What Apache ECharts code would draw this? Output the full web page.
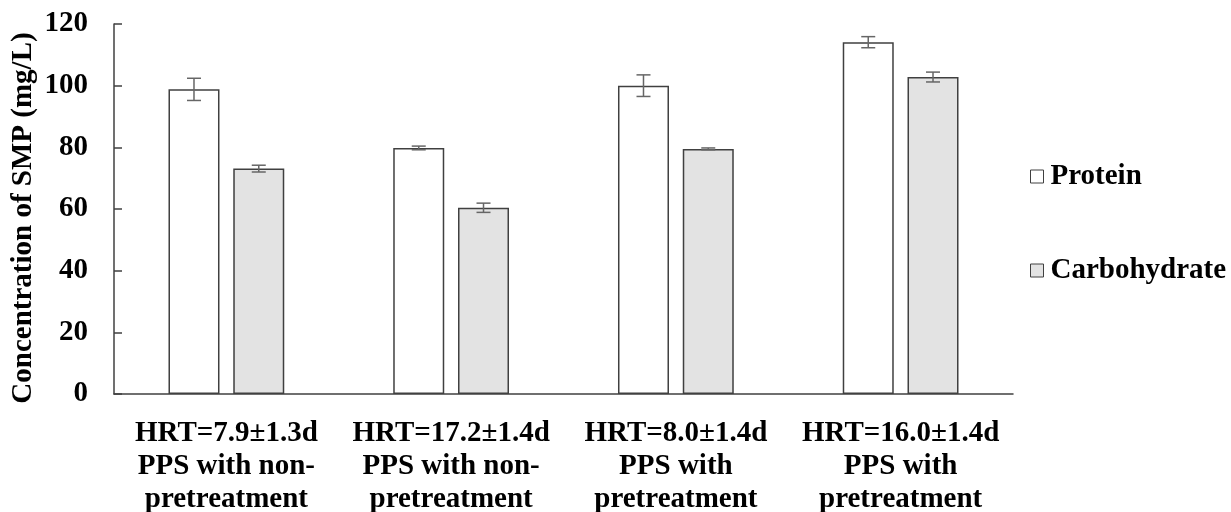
<!DOCTYPE html>
<html>
<head>
<meta charset="utf-8">
<script src="https://cdn.jsdelivr.net/npm/echarts@6/dist/echarts.min.js"></script>
<style>html,body{margin:0;padding:0;background:#fff}#c{width:1231px;height:512px}</style>
</head>
<body>
<div id="c"></div>
<script>
var categories = ['HRT=7.9±1.3d\nPPS with non-\npretreatment', 'HRT=17.2±1.4d\nPPS with non-\npretreatment', 'HRT=8.0±1.4d\nPPS with\npretreatment', 'HRT=16.0±1.4d\nPPS with\npretreatment'];
var seriesNames = ['Protein', 'Carbohydrate'];
var protein = [98.8, 79.8, 100.0, 114.1];
var proteinErr = [3.6, 0.6, 3.5, 1.8];
var carbohydrate = [73.1, 60.4, 79.5, 102.8];
var carbohydrateErr = [1.1, 1.5, 0.3, 1.6];
var yTicks = [0, 20, 40, 60, 80, 100, 120];

var FONT = 'Liberation Serif';
var BAR_W = 51, GAP_PCT = 0.27;
var OFFSET = (BAR_W + BAR_W * GAP_PCT) / 2;

function errData(vals, errs) {
  return vals.map(function (v, i) { return [i, v - errs[i], v + errs[i]]; });
}
function errSeries(vals, errs, sign) {
  return {
    type: 'custom',
    silent: true,
    z: 5,
    data: errData(vals, errs),
    renderItem: function (params, api) {
      var lo = api.coord([api.value(0), api.value(1)]);
      var hi = api.coord([api.value(0), api.value(2)]);
      var x = lo[0] + sign * OFFSET;
      var cap = 7;
      var st = { stroke: '#666', lineWidth: 1.5 };
      return {
        type: 'group',
        children: [
          { type: 'line', shape: { x1: x, y1: lo[1], x2: x, y2: hi[1] }, style: st },
          { type: 'line', shape: { x1: x - cap, y1: lo[1], x2: x + cap, y2: lo[1] }, style: st },
          { type: 'line', shape: { x1: x - cap, y1: hi[1], x2: x + cap, y2: hi[1] }, style: st }
        ]
      };
    }
  };
}

var chart = echarts.init(document.getElementById('c'));
chart.setOption({
  animation: false,
  backgroundColor: '#fff',
  grid: { left: 114, right: 218, top: 24, bottom: 118, containLabel: false, outerBoundsMode: 'none' },
  legend: {
    data: seriesNames,
    orient: 'vertical',
    left: 1025,
    top: 157,
    itemGap: 65,
    itemWidth: 13,
    itemHeight: 13,
    icon: 'rect',
    itemStyle: { borderColor: '#404040', borderWidth: 1 },
    textStyle: { fontFamily: FONT, fontWeight: 'bold', fontSize: 29, color: '#000', padding: [0, 0, 0, 2] }
  },
  xAxis: {
    type: 'category',
    data: categories,
    axisLine: { lineStyle: { color: '#404040', width: 1.5 } },
    axisTick: { show: false },
    axisLabel: { fontFamily: FONT, fontWeight: 'bold', fontSize: 29, color: '#000', lineHeight: 33, margin: 23, interval: 0 }
  },
  yAxis: {
    type: 'value',
    min: yTicks[0],
    max: yTicks[yTicks.length - 1],
    interval: 20,
    name: 'Concentration of SMP (mg/L)',
    nameLocation: 'middle',
    nameRotate: 90,
    nameGap: 76,
    nameMoveOverlap: false,
    nameTextStyle: { fontFamily: FONT, fontWeight: 'bold', fontSize: 29, color: '#000', padding: [0, 18, 0, 0] },
    axisLine: { show: true, lineStyle: { color: '#404040', width: 1.5 } },
    axisTick: { show: true, inside: true, length: 8, lineStyle: { color: '#404040', width: 1.5 } },
    splitLine: { show: false },
    axisLabel: { fontFamily: FONT, fontWeight: 'bold', fontSize: 29, color: '#000', margin: 26 }
  },
  series: [
    {
      name: seriesNames[0], type: 'bar', data: protein, barWidth: BAR_W, barGap: (GAP_PCT * 100) + '%',
      itemStyle: { color: '#ffffff', borderColor: '#404040', borderWidth: 1.5 }
    },
    {
      name: seriesNames[1], type: 'bar', data: carbohydrate, barWidth: BAR_W, barGap: (GAP_PCT * 100) + '%',
      itemStyle: { color: '#e3e3e3', borderColor: '#404040', borderWidth: 1.5 }
    },
    errSeries(protein, proteinErr, -1),
    errSeries(carbohydrate, carbohydrateErr, 1)
  ]
});
</script>
</body>
</html>
